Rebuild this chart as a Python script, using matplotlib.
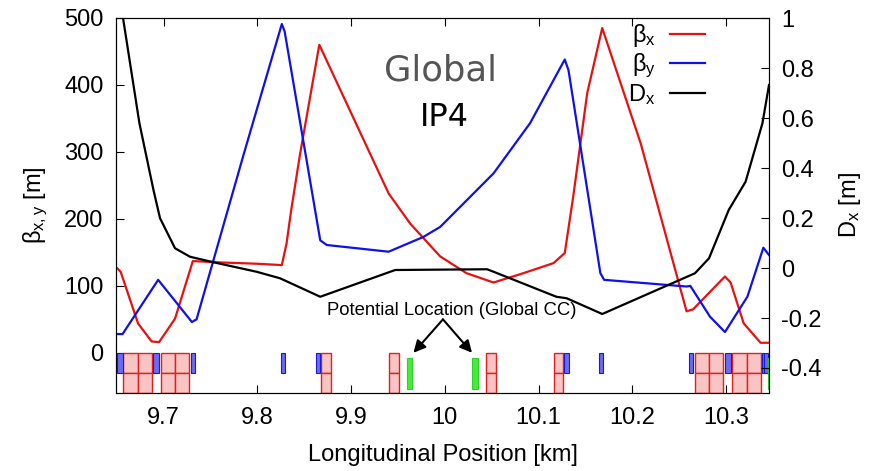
import matplotlib
matplotlib.use("Agg")
import matplotlib.pyplot as plt
from matplotlib.patches import Rectangle

plt.rcParams['font.family'] = ['Liberation Sans', 'DejaVu Sans']
plt.rcParams['mathtext.fontset'] = 'custom'
plt.rcParams['mathtext.rm'] = 'Liberation Sans'
plt.rcParams['mathtext.it'] = 'Liberation Sans'
plt.rcParams['mathtext.bf'] = 'Liberation Sans:bold'

# ---------------- data ----------------
s_bx = [9.649, 9.654, 9.6725, 9.687, 9.695, 9.712, 9.731, 9.760, 9.800, 9.826,
        9.831, 9.836, 9.845, 9.866, 9.892, 9.940, 9.963, 9.995, 10.023, 10.052,
        10.084, 10.116, 10.128, 10.137, 10.152, 10.168, 10.209, 10.258, 10.265,
        10.299, 10.305, 10.319, 10.337, 10.346]
beta_x = [128, 121, 44, 17, 16, 51, 137, 135, 133, 131,
          163, 213, 293, 460, 382, 238, 193, 144, 119, 105,
          119, 134, 149, 233, 388, 485, 313, 62, 65,
          114, 105, 44, 15, 15]

s_by = [9.649, 9.656, 9.694, 9.730, 9.735, 9.785, 9.826, 9.829, 9.867, 9.874,
        9.940, 9.977, 9.995, 10.052, 10.091, 10.128, 10.132, 10.166, 10.170,
        10.258, 10.262, 10.283, 10.299, 10.323, 10.340, 10.346]
beta_y = [28, 28, 109, 46, 50, 295, 491, 480, 168, 161,
          151, 173, 188, 268, 343, 438, 422, 119, 109,
          99, 100, 54, 31, 84, 157, 146]

s_dx = [9.649, 9.6565, 9.674, 9.689, 9.696, 9.712, 9.728, 9.753, 9.799, 9.824,
        9.867, 9.947, 10.045, 10.052, 10.119, 10.130, 10.168, 10.267, 10.282,
        10.303, 10.321, 10.339, 10.346]
D_x = [1.05, 1.0, 0.579, 0.312, 0.199, 0.079, 0.045, 0.023, -0.015, -0.041,
       -0.115, -0.008, -0.005, -0.015, -0.115, -0.121, -0.184, -0.021, 0.039,
       0.232, 0.345, 0.579, 0.732]

# magnet elements (start, end) in km
dipoles = [(9.657, 9.672), (9.672, 9.687), (9.697, 9.712), (9.712, 9.727),
           (9.868, 9.878), (9.940, 9.951), (10.044, 10.055), (10.116, 10.126),
           (10.267, 10.282), (10.282, 10.297), (10.306, 10.322), (10.322, 10.337)]
quads = [(9.650, 9.656), (9.689, 9.695), (9.729, 9.733), (9.825, 9.829),
         (9.862, 9.867), (10.127, 10.132), (10.165, 10.169), (10.261, 10.265),
         (10.299, 10.305), (10.338, 10.341), (10.341, 10.345)]
crab_cavities = [(9.960, 9.965), (10.029, 10.035), (10.345, 10.350)]

x_ticks = [9.7, 9.8, 9.9, 10.0, 10.1, 10.2, 10.3]
x_ticklabels = ['9.7', '9.8', '9.9', '10', '10.1', '10.2', '10.3']
beta_ticks = [0, 100, 200, 300, 400, 500]
dx_ticks = [-0.4, -0.2, 0, 0.2, 0.4, 0.6, 0.8, 1]
dx_ticklabels = ['-0.4', '-0.2', '0', '0.2', '0.4', '0.6', '0.8', '1']

# ---------------- figure ----------------
fig = plt.figure(figsize=(8.76, 4.71), dpi=100)
ax = fig.add_axes([116/876, 78/471, 653/876, 375/471])
ax2 = ax.twinx()

ax.set_xlim(9.649, 10.346)
ax.set_ylim(-60, 500)
ax2.set_ylim(-0.5, 1.0)

red = '#e81010'
blue = '#1010e8'

# magnets
for (a, b) in dipoles:
    for (y0, y1) in [(-30, 0), (-60, -30)]:
        ax.add_patch(Rectangle((a, y0), b - a, y1 - y0, facecolor='#f9c4c4',
                               edgecolor='#e02020', linewidth=1.0, zorder=2))
for (a, b) in quads:
    ax.add_patch(Rectangle((a, -30), b - a, 30, facecolor='#6a6af5',
                           edgecolor='#1a1ad0', linewidth=0.8, zorder=2))
for (a, b) in crab_cavities:
    ax.add_patch(Rectangle((a, -54), b - a, 47, facecolor='#44ee33',
                           edgecolor='#33cc33', linewidth=0.8, zorder=2))

l1, = ax.plot(s_bx, beta_x, color=red, lw=1.6, zorder=3)
l2, = ax.plot(s_by, beta_y, color=blue, lw=1.6, zorder=3)
l3, = ax2.plot(s_dx, D_x, color='black', lw=1.6, zorder=3)

# texts
ax.text(9.995, 421, 'Global', fontsize=25.5, color='#555555', ha='center', va='center',
        family='DejaVu Sans')
ax.text(9.999, 352, 'IP4', fontsize=23, color='black', ha='center', va='center',
        family='DejaVu Sans')
ax.text(10.007, 63, 'Potential Location (Global CC)', fontsize=13.3, ha='center',
        va='center', zorder=5)
for tip in [9.9665, 10.029]:
    ax.annotate('', xy=(tip, 0), xytext=(9.998, 50),
                arrowprops=dict(arrowstyle='-|>', color='black', lw=1.5,
                                mutation_scale=18, shrinkA=0, shrinkB=0), zorder=5)

# axes styling
ax.set_xticks(x_ticks)
ax.set_xticklabels(x_ticklabels)
ax.set_yticks(beta_ticks)
ax2.set_yticks(dx_ticks)
ax2.set_yticklabels(dx_ticklabels)
ax.tick_params(axis='x', direction='in', length=6, top=True, labelsize=17, pad=10)
ax.tick_params(axis='y', direction='in', length=6, right=False, labelsize=17, pad=9)
ax2.tick_params(axis='y', direction='in', length=6, labelsize=17, pad=9)

ax.set_xlabel('Longitudinal Position [km]', fontsize=17, labelpad=11)
ax.set_ylabel(r'$\beta_{x,y}$ [m]', fontsize=17, labelpad=10)
ax2.set_ylabel(r'D$_x$ [m]', fontsize=17, labelpad=11)

leg = ax2.legend([l1, l2, l3], [r'$\beta_x$', r'$\beta_y$', r'D$_x$'],
                 loc='upper right', bbox_to_anchor=(705/876, 1 - 22/471),
                 bbox_transform=fig.transFigure, frameon=False, markerfirst=False,
                 fontsize=17, handlelength=1.5, handletextpad=0.6,
                 labelspacing=0.1, borderpad=0, borderaxespad=0)

fig.savefig('out.png', dpi=100)
